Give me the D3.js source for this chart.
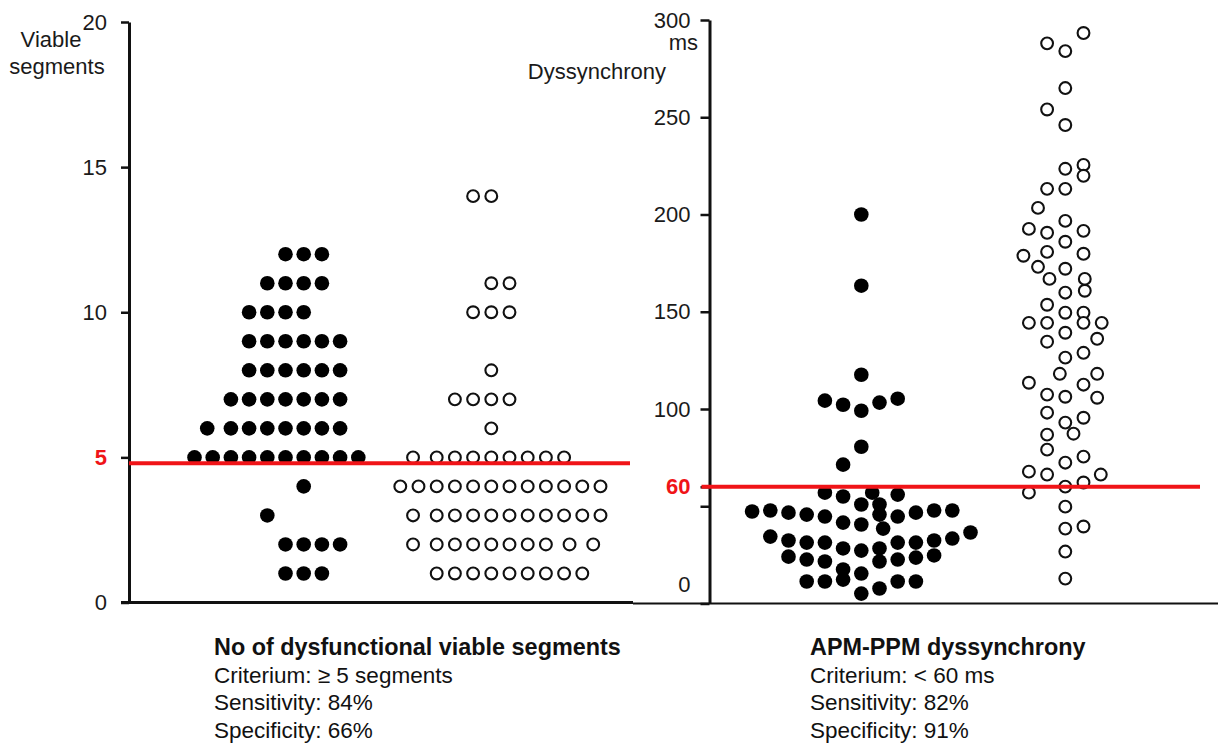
<!DOCTYPE html>
<html>
<head>
<meta charset="utf-8">
<script src="https://cdn.jsdelivr.net/npm/d3@7"></script>
<style>
  html, body { margin: 0; padding: 0; background: #fff; }
  svg { display: block; }
  text { font-family: "Liberation Sans", Arial, sans-serif; }
</style>
</head>
<body>
<svg id="chart" width="1218" height="744"></svg>
<script>
// ---------------- DATA ----------------
const groups = ["filled", "open"];

// Left panel: number of dysfunctional viable segments
// rows: [value, slot offsets (dot positions within the swarm row)]
const leftFilledRows = [
  [12, [0, 1, 2]],
  [11, [-1, 0, 1, 2]],
  [10, [-2, -1, 0, 1]],
  [9,  [-2, -1, 0, 1, 2, 3]],
  [8,  [-2, -1, 0, 1, 2, 3]],
  [7,  [-3, -2, -1, 0, 1, 2, 3]],
  [6,  [-4.3, -3, -2, -1, 0, 1, 2, 3]],
  [5,  [-5, -4, -3, -2, -1, 0, 1, 2, 3, 4]],
  [4,  [1]],
  [3,  [-1]],
  [2,  [0, 1, 2, 3]],
  [1,  [0, 1, 2]]
];
const leftOpenRows = [
  [14, [-1, 0]],
  [11, [0, 1]],
  [10, [-1, 0, 1]],
  [8,  [0]],
  [7,  [-2, -1, 0, 1]],
  [6,  [0]],
  [5,  [-4.3, -3, -2, -1, 0, 1, 2, 3, 4]],
  [4,  [-5, -4, -3, -2, -1, 0, 1, 2, 3, 4, 5, 6]],
  [3,  [-4.3, -3, -2, -1, 0, 1, 2, 3, 4, 5, 6]],
  [2,  [-4.3, -3, -2, -1, 0, 1, 2, 3, 4.3, 5.6]],
  [1,  [-3, -2, -1, 0, 1, 2, 3, 4, 5]]
];
const leftTicks = [0, 5, 10, 15, 20];
const leftThresholdTick = 5;
const leftThresholdLine = 4.8;

// Right panel: APM-PPM dyssynchrony (ms): [value, slot offset]
const rightFilled = [
  [200, 0], [163.4, 0], [117.6, 0],
  [104.3, -2], [102.2, -1], [99.1, 0], [103.3, 1], [105.3, 2],
  [80.6, 0], [71.4, -1],
  [57, -2], [55, -1], [57, 0.6], [56, 2],
  [50.9, 0], [50.9, 1],
  [47.3, -6], [47.8, -5], [46.7, -4], [45.7, -3], [44.7, -2], [41.6, -1], [40.6, 0],
  [45.7, 1], [38.5, 1.2], [44.7, 2], [46.7, 3], [47.8, 4], [47.8, 5],
  [36.5, 6], [33.4, 5], [32.4, 4], [31.3, 3], [31.3, 2],
  [34.4, -5], [32.4, -4], [31.3, -3], [31.3, -2], [28.3, -1], [27.2, 0], [28.3, 1],
  [24.1, -4], [22.6, -3], [21.6, -2], [21.6, 1], [22.6, 2], [23.6, 3], [24.7, 4],
  [17.5, -1], [15.4, 0],
  [11.3, -3], [11.3, -2], [12.3, -1], [11.3, 2], [11.3, 3],
  [5.1, 0], [7.7, 1]
];
const rightOpen = [
  [293.3, 1], [288, -1], [284, 0], [265, 0], [254, -1], [246, 0],
  [223.5, 0], [225.5, 1], [219.9, 1], [213.2, -1], [213.2, 0], [203.4, -1.5],
  [196.7, 0], [192.6, -2], [190.6, -1], [191.6, 1], [186, 0],
  [178.8, -2.3], [180.8, -1], [179.8, 1], [173.1, -1.5], [172.1, 0],
  [166.9, -0.87], [166.9, 1.07], [159.8, 0], [160.8, 1.07], [153.6, -1],
  [149.5, 0], [149.5, 1], [144.3, -2], [144.3, -1], [144.3, 1], [144.3, 2],
  [139.2, 0], [134.6, -1], [136.1, 1.75], [126.4, 0], [128.9, 1],
  [118.1, -0.3], [118.1, 1.75], [113.5, -2], [112.5, 1], [107.4, -1], [106.3, 0],
  [105.8, 1.75], [98.1, -1], [93, 0], [95.5, 1], [87.3, 0.45], [86.8, -1],
  [79.1, -1], [72.4, 0], [75.5, 1], [67.8, -2], [66.3, -1], [66.3, 1.95],
  [60.1, 0], [62.2, 1], [57, -2], [49.8, 0], [38.5, 0], [39.6, 1], [26.7, 0], [12.8, 0]
];
const rightTicks = [0, 50, 60, 100, 150, 200, 250, 300];
const rightUnlabeled = [50];
const rightThreshold = 60;

const leftCaption = ["No of dysfunctional viable segments", "Criterium: \u2265 5 segments", "Sensitivity: 84%", "Specificity: 66%"];
const rightCaption = ["APM-PPM dyssynchrony", "Criterium: < 60 ms", "Sensitivity: 82%", "Specificity: 91%"];

// ---------------- DRAWING ----------------
const RED = "#f01418";
const INK = "#111";
const svg = d3.select("#chart");
svg.append("rect").attr("width", 1218).attr("height", 744).attr("fill", "#fff");

const yL = d3.scaleLinear().domain([0, 20]).range([602.5, 22]);
const yR = d3.scaleLinear().domain([0, 300]).range([603.5, 20]);
const xL = d3.scalePoint().domain(groups).range([285.5, 491.3]);
const xR = d3.scalePoint().domain(groups).range([861.3, 1065.3]);
const slot = d3.scaleLinear().domain([0, 1]).range([0, 18.2]);

const expand = (rows, group) => rows.flatMap(([v, s]) => s.map(o => ({v, o, group})));
const leftPts = expand(leftFilledRows, "filled").concat(expand(leftOpenRows, "open"));
const rightPts = rightFilled.map(([v, o]) => ({v, o, group: "filled"}))
  .concat(rightOpen.map(([v, o]) => ({v, o, group: "open"})));

// baselines
const leftAxisX = 129, rightAxisX = 709.5;
svg.append("line").attr("x1", leftAxisX - 8).attr("x2", 633).attr("y1", yL(0)).attr("y2", yL(0))
  .attr("stroke", INK).attr("stroke-width", 3);
svg.append("line").attr("x1", 633).attr("x2", 1218).attr("y1", yR(0)).attr("y2", yR(0))
  .attr("stroke", INK).attr("stroke-width", 2);

function styleAxis(g) {
  g.select(".domain").attr("stroke", INK).attr("stroke-width", 3);
  g.selectAll(".tick line").attr("stroke", INK).attr("stroke-width", 2.5);
  g.selectAll(".tick text").attr("fill", "#1a1a1a").attr("font-size", 22)
    .attr("font-family", "'Liberation Sans', Arial, sans-serif");
}

const gL = svg.append("g").attr("transform", `translate(${leftAxisX},0)`)
  .call(d3.axisLeft(yL).tickValues(leftTicks).tickSize(8).tickSizeOuter(0).tickPadding(14).tickFormat(d3.format("d")));
styleAxis(gL);
gL.selectAll(".tick text").filter(d => d === leftThresholdTick)
  .attr("fill", RED).attr("font-weight", "bold");

const gR = svg.append("g").attr("transform", `translate(${rightAxisX},0)`)
  .call(d3.axisLeft(yR).tickValues(rightTicks).tickSize(9).tickSizeOuter(0).tickPadding(10)
    .tickFormat(d => rightUnlabeled.includes(d) ? "" : d3.format("d")(d)));
styleAxis(gR);
gR.selectAll(".tick text").filter(d => d === rightThreshold)
  .attr("fill", RED).attr("font-weight", "bold");
gR.selectAll(".tick text").filter(d => d === 0).attr("y", -19);

// axis titles
const T = (x, y, s, anchor = "start") => svg.append("text").attr("x", x).attr("y", y)
  .attr("font-size", 22).attr("fill", "#1a1a1a").attr("text-anchor", anchor).text(s);
T(51, 47, "Viable", "middle");
T(57, 74, "segments", "middle");
T(698, 50, "ms", "end");
T(666, 79, "Dyssynchrony", "end");

// dots
function drawDots(pts, x, y) {
  const g = svg.append("g");
  g.selectAll("circle.f").data(pts.filter(d => d.group === "filled")).join("circle")
    .attr("cx", d => x(d.group) + slot(d.o)).attr("cy", d => y(d.v))
    .attr("r", 7.3).attr("fill", "#000");
  g.selectAll("circle.o").data(pts.filter(d => d.group === "open")).join("circle")
    .attr("cx", d => x(d.group) + slot(d.o)).attr("cy", d => y(d.v))
    .attr("r", 5.9).attr("fill", "#fff").attr("stroke", "#111").attr("stroke-width", 2.1);
}
drawDots(leftPts, xL, yL);
drawDots(rightPts, xR, yR);

// threshold lines
svg.append("line").attr("x1", leftAxisX).attr("x2", 630)
  .attr("y1", yL(leftThresholdLine)).attr("y2", yL(leftThresholdLine))
  .attr("stroke", RED).attr("stroke-width", 4);
svg.append("line").attr("x1", rightAxisX - 8).attr("x2", 1200)
  .attr("y1", yR(rightThreshold)).attr("y2", yR(rightThreshold))
  .attr("stroke", RED).attr("stroke-width", 4);

// captions
function caption(lines, x) {
  lines.forEach((s, i) => {
    svg.append("text").attr("x", x).attr("y", 655 + i * 27.5)
      .attr("font-size", i === 0 ? 23.4 : 22.5)
      .attr("font-weight", i === 0 ? "bold" : "normal")
      .attr("fill", "#111").text(s);
  });
}
caption(leftCaption, 214);
caption(rightCaption, 810);
</script>
</body>
</html>
